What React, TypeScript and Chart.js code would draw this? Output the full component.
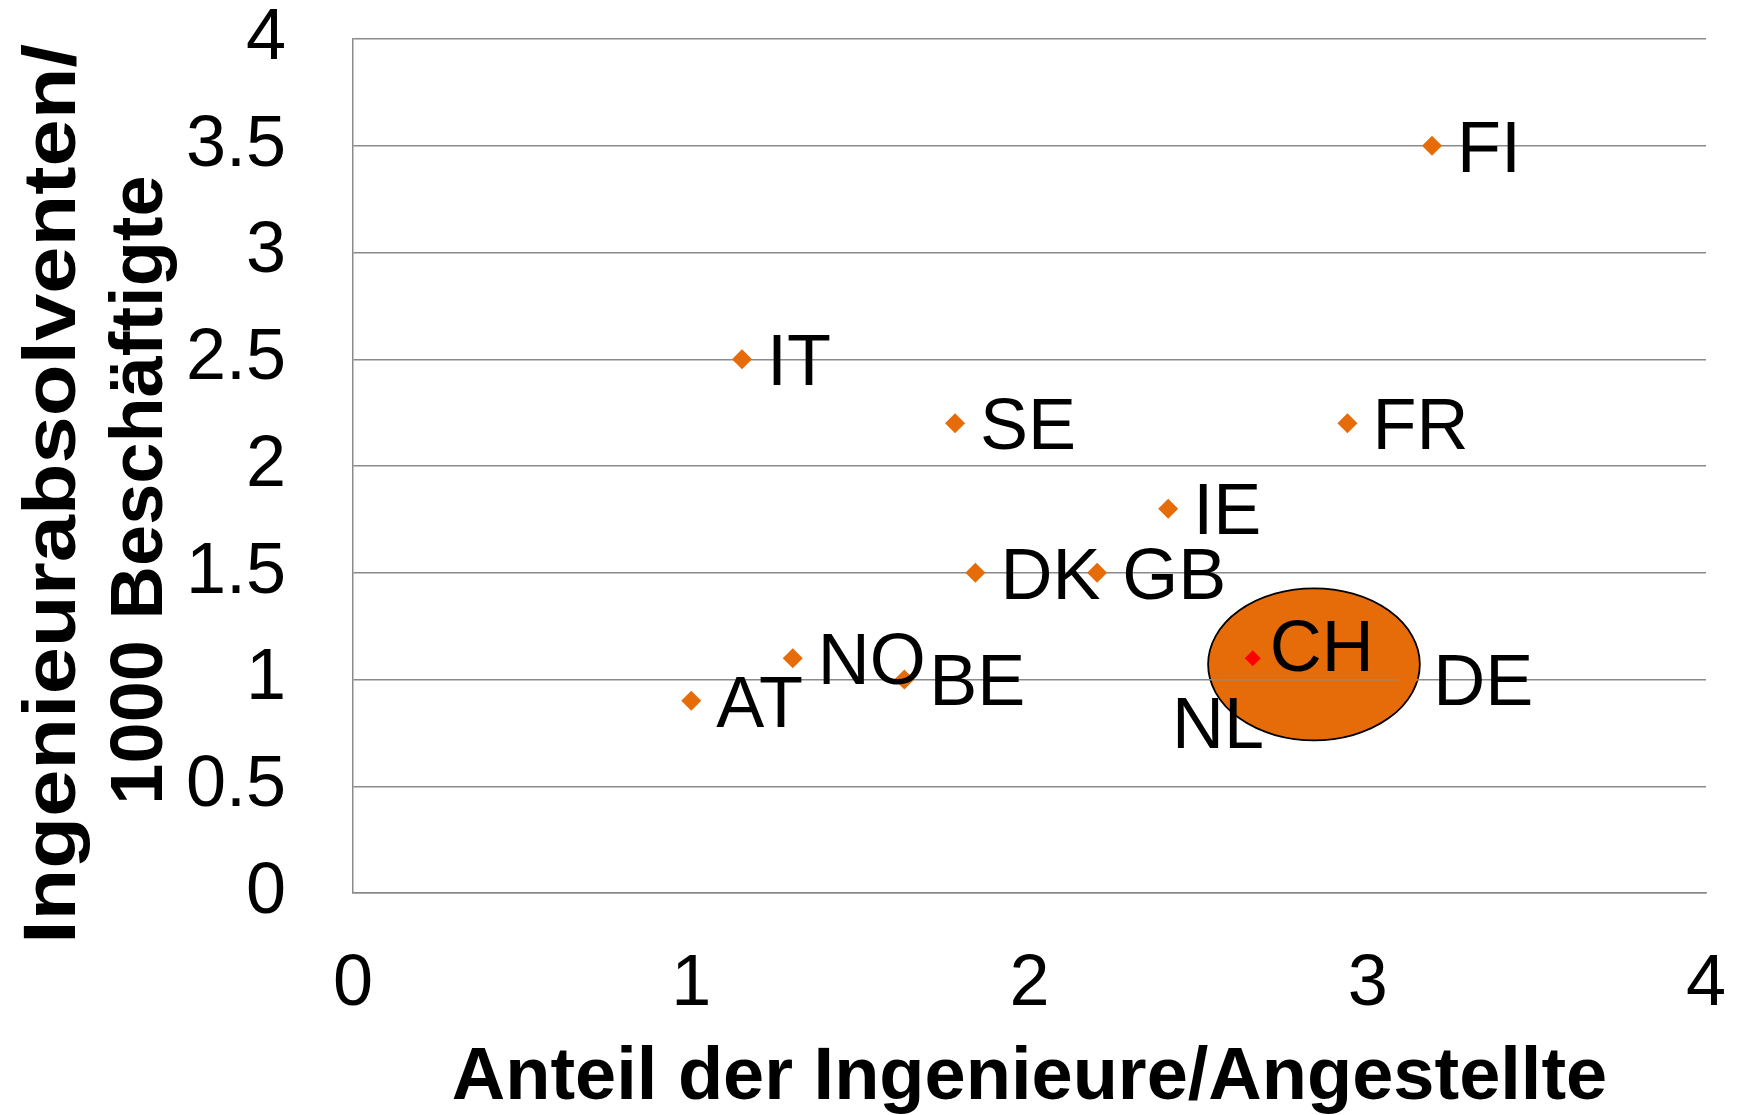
import React, { useEffect, useRef } from "react";
import { Chart, registerables } from "chart.js";

Chart.register(...registerables);

// ---- data ----
const countries = ["AT", "NO", "BE", "IT", "SE", "DK", "GB", "IE", "FR", "FI", "DE", "NL", "CH"];
const engineerShare = [1.0, 1.3, 1.63, 1.15, 1.78, 1.84, 2.2, 2.41, 2.94, 3.19, 3.12, 2.64, 2.66];
const graduatesPer1000 = [0.9, 1.1, 1.0, 2.5, 2.2, 1.5, 1.5, 1.8, 2.2, 3.5, 1.0, 1.1, 1.1];
const xTickValues = [0, 1, 2, 3, 4];
const yTickValues = [0, 0.5, 1, 1.5, 2, 2.5, 3, 3.5, 4];
const highlightCountry = "CH";
const highlightCenter = [2.841, 1.071];
const highlightRadius = [0.313, 0.356];

const xTitle = "Anteil der Ingenieure/Angestellte";
const yTitleLines = ["Ingenieurabsolventen/", "1000 Beschäftigte"];

const FONT = '"Liberation Sans", Arial, sans-serif';
const ORANGE = "#E66C09";

export default function App() {
  const ref = useRef<HTMLCanvasElement | null>(null);

  useEffect(() => {
    if (!ref.current) return;

    const labelNudges: Record<string, [number, number]> = {
      CH: [17, -13],
      NL: [-74, 64],
    };

    const ellipsePlugin = {
      id: "highlightEllipse",
      beforeDraw(chart: any) {
        const xs = chart.scales.x;
        const ys = chart.scales.y;
        const cx = xs.getPixelForValue(highlightCenter[0]);
        const cy = ys.getPixelForValue(highlightCenter[1]);
        const rx = Math.abs(xs.getPixelForValue(highlightCenter[0] + highlightRadius[0]) - cx);
        const ry = Math.abs(ys.getPixelForValue(highlightCenter[1] + highlightRadius[1]) - cy);
        const ctx = chart.ctx;
        ctx.save();
        ctx.beginPath();
        ctx.ellipse(cx, cy, rx, ry, 0, 0, Math.PI * 2);
        ctx.fillStyle = ORANGE;
        ctx.fill();
        ctx.lineWidth = 1.8;
        ctx.strokeStyle = "#000";
        ctx.stroke();
        ctx.restore();
      },
    };

    const labelPlugin = {
      id: "pointLabels",
      afterDatasetsDraw(chart: any) {
        const ctx = chart.ctx;
        const meta = chart.getDatasetMeta(0);
        const size = 72;
        ctx.save();
        ctx.font = `${size}px ${FONT}`;
        ctx.fillStyle = "#000";
        ctx.textAlign = "left";
        ctx.textBaseline = "alphabetic";
        meta.data.forEach((pt: any, i: number) => {
          const name = countries[i];
          const [dx, dy] = labelNudges[name] || [25, 0];
          ctx.fillText(name, pt.x + dx, pt.y + dy + size * 0.358);
        });
        ctx.restore();
      },
      afterDraw(chart: any) {
        const ctx = chart.ctx;
        const area = chart.chartArea;
        ctx.save();
        ctx.fillStyle = "#000";
        ctx.font = `bold 74px ${FONT}`;
        ctx.textAlign = "center";
        ctx.textBaseline = "alphabetic";
        ctx.fillText(xTitle, (area.left + area.right) / 2, area.bottom + 206);
        const baseXs = [75, 162];
        const centers = [494, 490];
        const stretch = [1.146, 1.0];
        yTitleLines.forEach((line, i) => {
          ctx.save();
          ctx.translate(baseXs[i], centers[i]);
          ctx.rotate(-Math.PI / 2);
          ctx.scale(stretch[i], 1);
          ctx.fillText(line, 0, 0);
          ctx.restore();
        });
        ctx.restore();
      },
    };

    const chart = new Chart(ref.current, {
      type: "scatter",
      data: {
        datasets: [
          {
            data: engineerShare.map((x, i) => ({ x, y: graduatesPer1000[i] })),
            pointStyle: "rectRot",
            pointRadius: countries.map((c) => (c === highlightCountry ? 8 : 10)),
            pointHoverRadius: countries.map((c) => (c === highlightCountry ? 8 : 10)),
            pointBackgroundColor: countries.map((c) => (c === highlightCountry ? "#FF0000" : ORANGE)),
            pointBorderWidth: 0,
            borderWidth: 0,
            showLine: false,
          },
        ],
      },
      options: {
        animation: false,
        responsive: true,
        maintainAspectRatio: false,
        layout: { padding: { top: 39, right: 36, left: 0, bottom: 0 } },
        plugins: {
          legend: { display: false },
          tooltip: { enabled: false },
          title: { display: false },
        },
        scales: {
          x: {
            type: "linear",
            min: xTickValues[0],
            max: xTickValues[xTickValues.length - 1],
            afterBuildTicks(scale: any) {
              scale.ticks = xTickValues.map((v) => ({ value: v }));
            },
            afterFit(scale: any) {
              scale.height = 222;
            },
            grid: {
              color: "transparent",
              drawTicks: true,
              tickLength: 49,
              tickColor: "transparent",
            },
            border: { display: true, color: "#8a8a8a", width: 1.5 },
            ticks: {
              padding: 0,
              color: "#000",
              font: { family: FONT, size: 72, lineHeight: 1.2 },
              callback: (v: any) => String(v),
            },
          },
          y: {
            type: "linear",
            min: yTickValues[0],
            max: yTickValues[yTickValues.length - 1],
            afterBuildTicks(scale: any) {
              scale.ticks = yTickValues.map((v) => ({ value: v }));
            },
            afterFit(scale: any) {
              scale.width = 353;
            },
            grid: {
              color: "#8a8a8a",
              lineWidth: 1.5,
              drawTicks: true,
              tickLength: 60,
              tickColor: "transparent",
            },
            border: { display: true, color: "#8a8a8a", width: 1.5 },
            ticks: {
              padding: 7,
              color: "#000",
              font: { family: FONT, size: 72, lineHeight: 0.8 },
              callback: (v: any) => String(v),
            },
          },
        },
      },
      plugins: [ellipsePlugin, labelPlugin],
    });

    return () => chart.destroy();
  }, []);

  return (
    <div style={{ position: "fixed", left: 0, top: 0, width: 1742, height: 1115, background: "#fff" }}>
      <canvas ref={ref} />
    </div>
  );
}
